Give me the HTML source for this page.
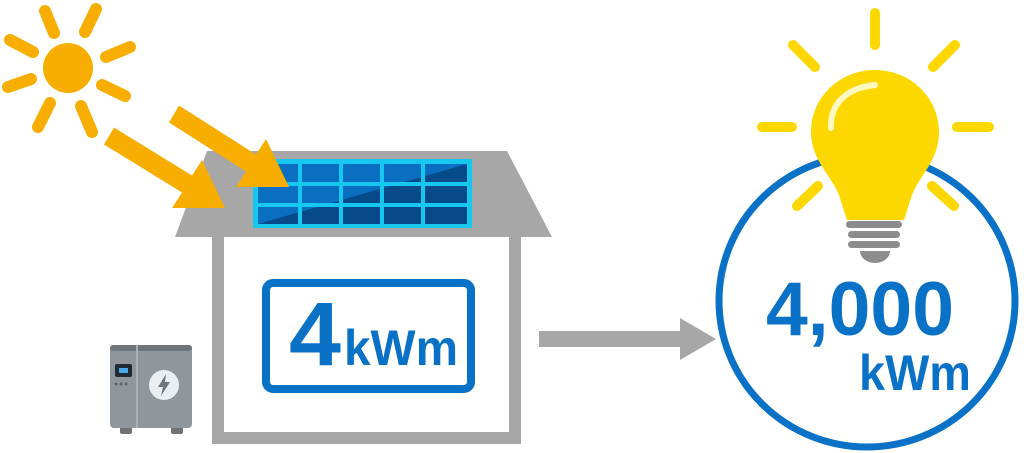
<!DOCTYPE html>
<html><head><meta charset="utf-8"><style>html,body{margin:0;padding:0;background:#fff}svg{display:block}</style></head>
<body>
<svg width="1024" height="453" viewBox="0 0 1024 453" xmlns="http://www.w3.org/2000/svg">
<!-- sun -->
<g stroke="#f7ae00" stroke-width="12" stroke-linecap="round">
<line x1="45" y1="11" x2="54" y2="33"/><line x1="96" y1="9" x2="85" y2="32"/>
<line x1="10" y1="40" x2="33" y2="52"/><line x1="130" y1="47" x2="106" y2="57"/>
<line x1="8" y1="87" x2="31" y2="79"/><line x1="125" y1="96" x2="102" y2="85"/>
<line x1="38" y1="127" x2="50" y2="103"/><line x1="92" y1="132" x2="81" y2="106"/>
</g>
<circle cx="68" cy="68" r="25" fill="#f7ae00"/>
<!-- roof -->
<polygon points="207,151 507,151 552,237 175,237" fill="#a7a7a7"/>
<!-- panel -->
<rect x="253" y="159" width="219" height="69" fill="#16c8f0"/>
<clipPath id="pc"><rect x="258" y="164" width="209" height="60"/></clipPath>
<g clip-path="url(#pc)">
<rect x="258" y="164" width="209" height="60" fill="#0a6fc0"/>
<polygon points="258,224 467,164 467,224" fill="#064a8a"/>
</g>
<g fill="#16c8f0">
<rect x="298" y="164" width="4" height="60"/><rect x="339" y="164" width="4" height="60"/><rect x="380" y="164" width="4" height="60"/><rect x="421" y="164" width="4" height="60"/>
<rect x="258" y="182" width="209" height="4"/><rect x="258" y="203" width="209" height="4"/>
</g>
<!-- sun arrows -->
<g fill="#f7ae00">
<polygon points="114,127.5 192,175.5 202,160 225,208 172,208 182,192.5 104,144.5"/>
<polygon points="179,105.5 256,154.5 266,139 289,187 236,187 246,171.5 169,122.5"/>
</g>
<!-- house walls -->
<path d="M212,237 H521 V444 H212 Z M224,237 V432 H509 V237 Z" fill="#a7a7a7" fill-rule="evenodd"/>
<rect x="266" y="283" width="205" height="106" rx="7" fill="#fff" stroke="#0a72c6" stroke-width="8"/>
<text x="289" y="365" font-family="Liberation Sans, sans-serif" font-weight="bold" font-size="90" fill="#0a72c6" textLength="52" lengthAdjust="spacingAndGlyphs">4</text>
<text x="344" y="365" font-family="Liberation Sans, sans-serif" font-weight="bold" font-size="50" fill="#0a72c6" textLength="114" lengthAdjust="spacingAndGlyphs">kWm</text>
<!-- battery -->
<rect x="120" y="425" width="12" height="9" rx="2" fill="#6e7378"/>
<rect x="171" y="425" width="12" height="9" rx="2" fill="#6e7378"/>
<rect x="110" y="345" width="82" height="83" rx="4" fill="#8f979d"/>
<rect x="110" y="345" width="82" height="6" rx="3" fill="#6e767c"/>
<rect x="136" y="345" width="2" height="83" fill="#a8b0b5"/>
<rect x="115" y="364" width="17" height="13" rx="2" fill="#1f2a33"/>
<rect x="119" y="368" width="9" height="5" fill="#4aa8e8"/>
<circle cx="116" cy="384" r="1.5" fill="#5c6368"/><circle cx="121" cy="384" r="1.5" fill="#5c6368"/><circle cx="126" cy="384" r="1.5" fill="#5c6368"/>
<circle cx="164" cy="385" r="15" fill="#eceff1"/>
<polygon points="166,374 158,387 163,387 161,396 170,382 165,382" fill="#6e767c"/>
<!-- gray arrow -->
<polygon points="539,331 680,331 680,318 716,339 680,360 680,347 539,347" fill="#a7a7a7"/>
<!-- circle -->
<ellipse cx="867" cy="301" rx="148" ry="146" fill="#fff" stroke="#0a72c6" stroke-width="7"/>
<!-- bulb rays -->
<g stroke="#fcd800" stroke-width="10" stroke-linecap="round">
<line x1="875" y1="13" x2="875" y2="45"/>
<line x1="793" y1="45" x2="815" y2="67"/><line x1="955" y1="45" x2="933" y2="67"/>
<line x1="762" y1="127" x2="792" y2="127"/><line x1="957" y1="127" x2="989" y2="127"/>
<line x1="818" y1="186" x2="797" y2="206"/><line x1="932" y1="186" x2="954" y2="206"/>
</g>
<!-- bulb -->
<path d="M875,70 C910,70 939,97 939,132 C939,160 920,175 912,195 L904,220 L847,220 L839,195 C831,175 811,160 811,132 C811,97 840,70 875,70 Z" fill="#fcd800"/>
<path d="M831,128 C830,105 845,88 875,85" fill="none" stroke="#fff8c0" stroke-width="6" stroke-linecap="round"/>
<g fill="#8c8c8c">
<rect x="846" y="221" width="56" height="7" rx="3.5"/>
<rect x="848" y="231" width="52" height="7" rx="3.5"/>
<rect x="848" y="241" width="52" height="7" rx="3.5"/>
<path d="M860,251 H890 A15,12 0 0 1 860,251 Z"/>
</g>
<text x="766" y="335" font-family="Liberation Sans, sans-serif" font-weight="bold" font-size="76" fill="#0a72c6" textLength="188" lengthAdjust="spacingAndGlyphs">4,000</text>
<text x="859" y="390" font-family="Liberation Sans, sans-serif" font-weight="bold" font-size="50" fill="#0a72c6" textLength="112" lengthAdjust="spacingAndGlyphs">kWm</text>
</svg>
</body></html>
